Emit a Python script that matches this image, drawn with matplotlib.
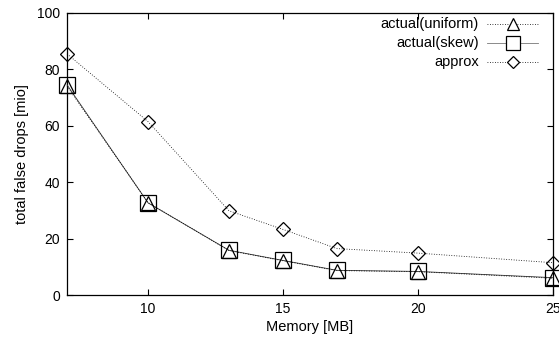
import matplotlib
matplotlib.use("Agg")
import matplotlib.pyplot as plt

plt.rcParams['font.family'] = ['Liberation Sans', 'DejaVu Sans']

memory = [7, 10, 13, 15, 17, 20, 25]
actual_uniform = [74.0, 32.8, 15.8, 12.2, 8.7, 8.3, 6.0]
actual_skew = [74.5, 32.7, 15.9, 12.3, 8.8, 8.4, 6.2]
approx = [85.5, 61.5, 29.9, 23.3, 16.5, 14.9, 11.5]

fig = plt.figure(figsize=(5.59, 3.42), dpi=100)
ax = fig.add_axes([0.12, 0.137, 0.869, 0.825])

lw = 0.6
dot = (0, (1, 2))
ax.plot(memory, actual_skew, color='#333333', lw=lw, ls='-', marker='s',
        ms=11, mfc='none', mec='black', mew=0.9, clip_on=False, zorder=3)
ax.plot(memory, actual_uniform, color='black', lw=lw, ls=dot, marker='^',
        ms=10, mfc='none', mec='black', mew=0.9, clip_on=False, zorder=3)
ax.plot(memory, approx, color='black', lw=lw, ls=dot, marker='D',
        ms=7, mfc='none', mec='black', mew=0.9, clip_on=False, zorder=3)

ax.set_xlim(7, 25)
ax.set_ylim(0, 100)
ax.set_xticks([10, 15, 20, 25])
ax.set_yticks([0, 20, 40, 60, 80, 100])
ax.tick_params(direction='in', length=4, width=0.8, top=True, right=True,
               labelsize=10, pad=5)
for s in ax.spines.values():
    s.set_linewidth(0.9)

ax.set_xlabel('Memory [MB]', fontsize=10.5, labelpad=3)
ax.set_ylabel('total false drops [mio]', fontsize=10.5, labelpad=6)

# gnuplot style key: right aligned text, sample on the right
legend_rows = [
    ('actual(uniform)', '^', dot, 'black', 9),
    ('actual(skew)', 's', '-', '#777777', 10),
    ('approx', 'D', dot, 'black', 6.5),
]
ys = [0.961, 0.894, 0.826]
for (lab, mk, ls, col, ms), y in zip(legend_rows, ys):
    ax.text(0.848, y, lab, transform=ax.transAxes, ha='right', va='center',
            fontsize=10.5)
    ax.plot([0.864, 0.918, 0.970], [y, y, y], transform=ax.transAxes,
            color=col, lw=lw, ls=ls, marker=mk, markevery=[1], ms=ms,
            mfc='white', mec='black', mew=0.9, clip_on=False)

fig.savefig('out.png', dpi=100)
